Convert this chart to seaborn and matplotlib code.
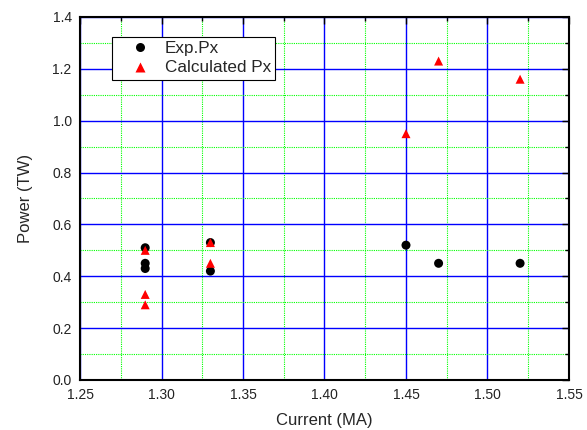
import numpy as np
import pandas as pd
import matplotlib
matplotlib.use("Agg")
import matplotlib.pyplot as plt
import seaborn as sns
from matplotlib.ticker import MultipleLocator

exp_current = [1.29, 1.29, 1.29, 1.33, 1.33, 1.45, 1.47, 1.52]
exp_power = [0.51, 0.45, 0.43, 0.53, 0.42, 0.52, 0.45, 0.45]
calc_current = [1.29, 1.29, 1.29, 1.33, 1.33, 1.45, 1.47, 1.52]
calc_power = [0.50, 0.33, 0.29, 0.53, 0.45, 0.95, 1.23, 1.16]
series_names = ["Exp.Px", "Calculated Px"]

df = pd.DataFrame({
    "Current": exp_current + calc_current,
    "Power": exp_power + calc_power,
    "Series": [series_names[0]] * len(exp_current) + [series_names[1]] * len(calc_current),
})

sns.set_style("white")
plt.rcParams["font.family"] = ["Liberation Sans", "DejaVu Sans"]

fig = plt.figure(figsize=(5.87, 4.30), dpi=100)
ax = fig.add_axes([0.1363, 0.1163, 0.8330, 0.8442])

ax.set_xlim(1.25, 1.55)
ax.set_ylim(0, 1.4)
ax.xaxis.set_major_locator(MultipleLocator(0.05))
ax.xaxis.set_minor_locator(MultipleLocator(0.025))
ax.yaxis.set_major_locator(MultipleLocator(0.2))
ax.yaxis.set_minor_locator(MultipleLocator(0.1))
ax.grid(which="major", color="#0000ff", linewidth=1.0, linestyle="-", zorder=0)
ax.grid(which="minor", color="#00ff00", linewidth=0.8, linestyle=(0, (1, 1)), zorder=0)
ax.set_axisbelow(True)

sns.scatterplot(data=df, x="Current", y="Power", hue="Series", style="Series",
                palette={series_names[0]: "black", series_names[1]: "red"},
                markers={series_names[0]: "o", series_names[1]: "^"},
                s=42, edgecolor="none", ax=ax, zorder=3, legend=True)

ax.set_xlabel("Current (MA)", fontsize=12, labelpad=8)
ax.set_ylabel("Power (TW)", fontsize=12, labelpad=14)
ax.tick_params(which="both", direction="in", top=True, right=True, labelsize=10,
               color="black", labelcolor="#222222", width=1, pad=6)
ax.tick_params(which="major", length=5)
ax.tick_params(which="minor", length=3)
ax.set_xticklabels([f"{v:.2f}" for v in ax.get_xticks()])
ax.set_yticklabels([f"{v:.1f}" for v in ax.get_yticks()])
for sp in ax.spines.values():
    sp.set_color("black")
    sp.set_linewidth(1.5)

leg = ax.legend(title=None, loc="upper left", bbox_to_anchor=(0.0654, 0.945),
                fontsize=12.3, frameon=True, fancybox=False, edgecolor="black",
                framealpha=1, borderpad=0.25, handlelength=2.8, handletextpad=0.05,
                labelspacing=0.25, markerscale=1.0, borderaxespad=0)
leg.get_frame().set_linewidth(0.8)

fig.savefig("out.png", dpi=100)
